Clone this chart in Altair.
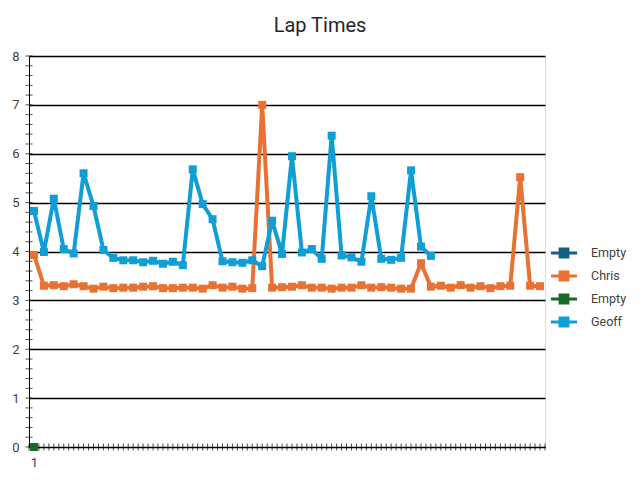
import altair as alt
import pandas as pd

# ---- data ----
series_order = ["Empty1", "Chris", "Empty2", "Geoff"]
series_colors = ["#156082", "#E97132", "#196B24", "#0F9ED5"]

empty1 = [0]
chris = [3.93, 3.30, 3.31, 3.29, 3.33, 3.29, 3.24, 3.28, 3.25, 3.26,
         3.26, 3.28, 3.29, 3.25, 3.25, 3.26, 3.26, 3.24, 3.31, 3.26,
         3.28, 3.24, 3.25, 7.00, 3.26, 3.27, 3.28, 3.31, 3.26, 3.26,
         3.24, 3.26, 3.26, 3.31, 3.26, 3.27, 3.26, 3.24, 3.24, 3.76,
         3.28, 3.30, 3.26, 3.31, 3.26, 3.29, 3.25, 3.29, 3.30, 5.52,
         3.30, 3.29]
empty2 = [0]
geoff = [4.83, 3.99, 5.08, 4.05, 3.96, 5.60, 4.93, 4.03, 3.87, 3.82,
         3.82, 3.78, 3.81, 3.75, 3.79, 3.72, 5.68, 4.97, 4.66, 3.80,
         3.78, 3.77, 3.82, 3.70, 4.63, 3.95, 5.95, 3.98, 4.05, 3.85,
         6.37, 3.92, 3.88, 3.79, 5.13, 3.85, 3.83, 3.87, 5.66, 4.10,
         3.91]

n_categories = 52
y_tick_values = [i / 5 for i in range(0, 41)]
x_tick_values = [i / 2 for i in range(1, 2 * n_categories + 2)]
y_labels = [0, 1, 2, 3, 4, 5, 6, 7, 8]
x_labels = [1]

rows = []
for name, vals in zip(series_order, [empty1, chris, empty2, geoff]):
    for i, v in enumerate(vals):
        rows.append({"series": name, "idx": i + 1, "value": v,
                     "order": series_order.index(name)})
df = pd.DataFrame(rows)

ytick_df = pd.DataFrame({"idx": [0.5] * len(y_tick_values), "value": y_tick_values})
xtick_df = pd.DataFrame({"idx": x_tick_values, "value": [0] * len(x_tick_values)})

FONT = "Roboto"

x_enc = alt.X("idx:Q",
              scale=alt.Scale(domain=[0.5, n_categories + 0.5], nice=False, zero=False),
              axis=alt.Axis(title=None, values=x_labels, ticks=False, grid=False,
                            labelPadding=9, domainColor="black", domainWidth=1,
                            labelFontSize=13, labelColor="#404040", labelFont=FONT))
y_enc = alt.Y("value:Q",
              scale=alt.Scale(domain=[0, 8], nice=False),
              axis=alt.Axis(title=None, values=y_labels, ticks=False, grid=True,
                            gridColor="black", gridWidth=1.3, gridOpacity=1,
                            labelPadding=10, domainColor="black", domainWidth=1,
                            labelFontSize=13, labelColor="#404040", labelFont=FONT))

legend_path = "M-2,0H2M-0.6,-0.6H0.6V0.6H-0.6Z"
color_enc = alt.Color("series:N",
                      scale=alt.Scale(domain=series_order, range=series_colors),
                      legend=alt.Legend(title=None, orient="none", legendX=527, legendY=189,
                                        symbolType=legend_path, symbolSize=169,
                                        symbolStrokeWidth=3, rowPadding=3,
                                        labelOffset=19, padding=0,
                                        labelFontSize=12.5, labelColor="#404040",
                                        labelFont=FONT,
                                        labelExpr="datum.label == 'Empty1' || datum.label == 'Empty2' ? 'Empty' : datum.label"))

lines = alt.Chart(df).mark_line(strokeWidth=4, strokeJoin="round").encode(
    x=x_enc, y=y_enc, color=color_enc, detail="series:N", order="idx:Q")

points = alt.Chart(df).mark_square(size=64, opacity=1, filled=True).encode(
    x=x_enc, y=y_enc, color=color_enc, order="order:Q")

yticks = alt.Chart(ytick_df).mark_tick(orient="horizontal", size=7, thickness=1,
                                        color="black").encode(x=x_enc, y=y_enc)
xticks = alt.Chart(xtick_df).mark_tick(orient="vertical", size=7, thickness=1,
                                        color="black").encode(x=x_enc, y=y_enc)

chart = alt.layer(yticks, xticks, lines, points).properties(
    width=516, height=391,
    title=alt.TitleParams("Lap Times", fontSize=20, font=FONT, fontWeight="normal",
                          color="#262626", anchor="middle", dx=33, offset=14),
    padding={"left": 21, "top": 48, "right": 86, "bottom": 26},
    autosize=alt.AutoSizeParams(type="none"),
).configure_view(stroke=None).configure(background="white")

chart.save("out.html", embed_options={"renderer": "svg", "actions": False})
